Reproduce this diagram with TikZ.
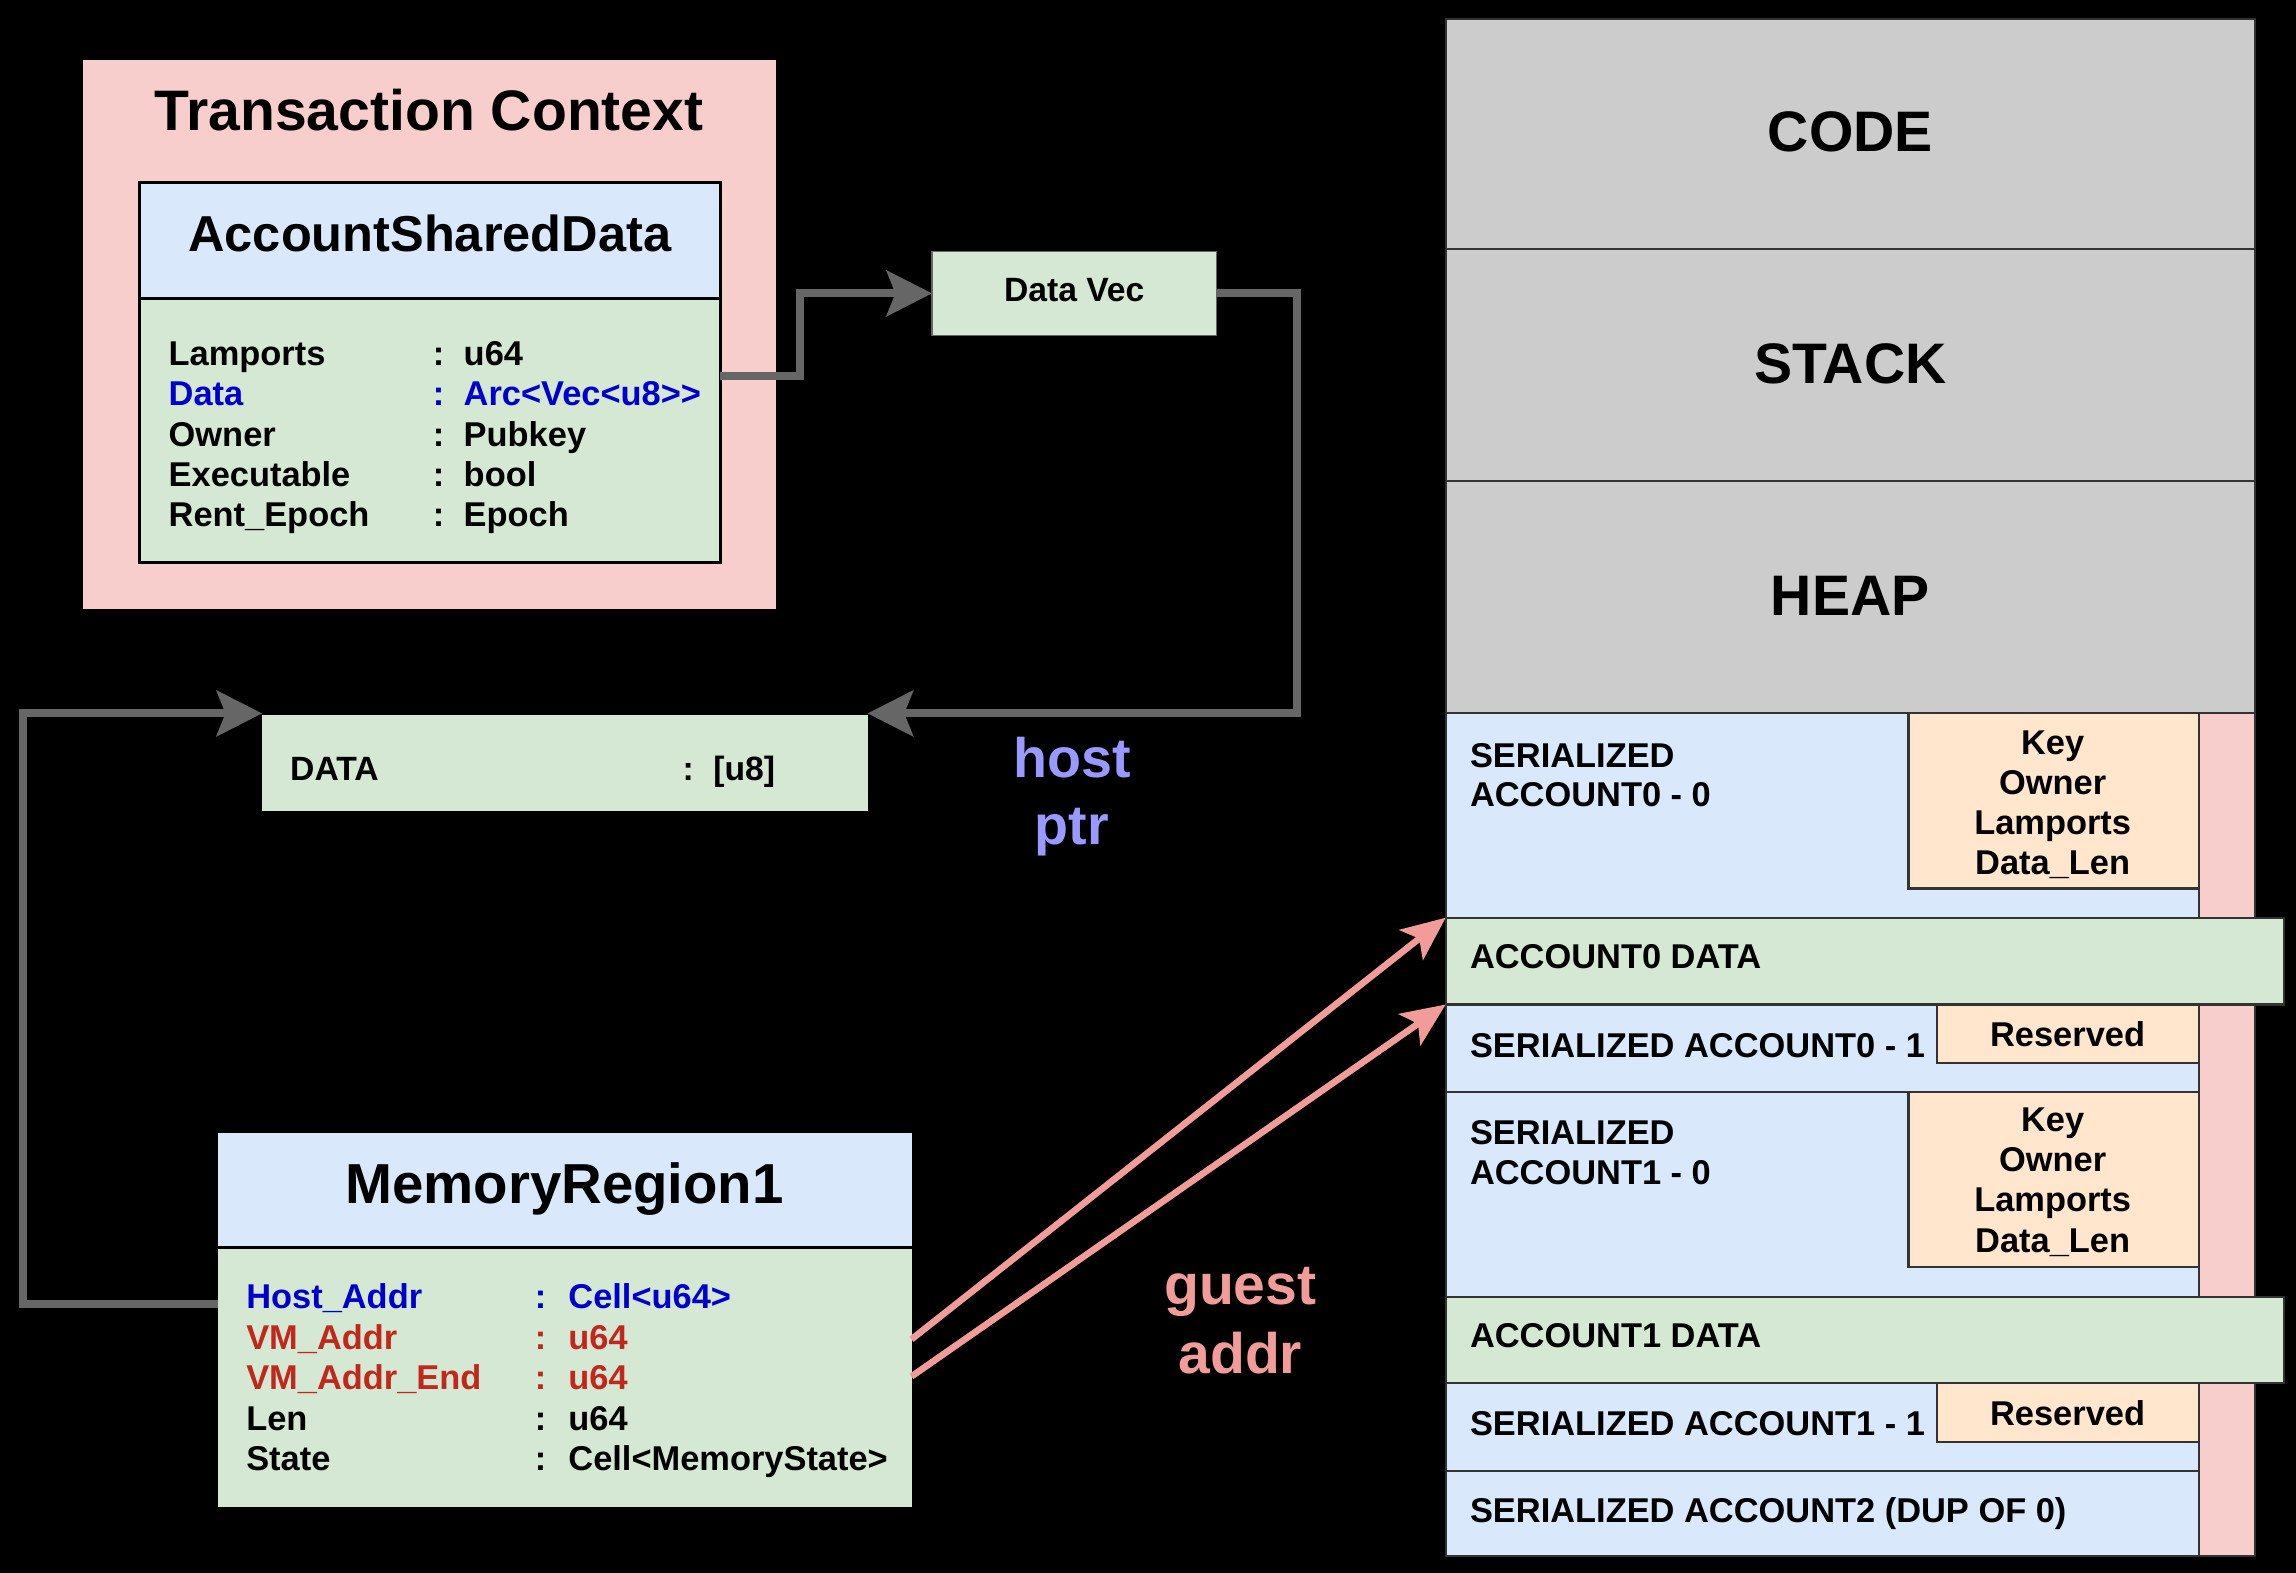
\documentclass[tikz,border=0pt]{standalone}
\usepackage{fontspec}
\setmainfont{Liberation Sans}
\usetikzlibrary{arrows.meta,calc}
\definecolor{pinkF}{HTML}{F8CECC}
\definecolor{blueF}{HTML}{DAE8FC}
\definecolor{greenF}{HTML}{D5E8D4}
\definecolor{orangeF}{HTML}{FFE6CC}
\definecolor{grayF}{HTML}{CCCCCC}
\definecolor{memedge}{HTML}{333333}
\definecolor{arrgray}{HTML}{666666}
\definecolor{arrpink}{HTML}{F19C99}
\definecolor{hostc}{HTML}{9999FF}
\definecolor{txtblue}{HTML}{0000CC}
\definecolor{txtred}{HTML}{C0281C}
\newcommand\fsz[1]{\fontsize{#1}{#1}\selectfont\bfseries}
\begin{document}
\begin{tikzpicture}[x=1pt,y=-1pt,
  box/.style={inner sep=0pt, outer sep=0pt, anchor=north west},
  memb/.style={box, draw=memedge, line width=1.5pt},
  lbl/.style={inner sep=0pt, anchor=base west},
  ctr/.style={inner sep=0pt, anchor=base},
  garrow/.style={draw=arrgray, line width=5.5pt, -{Stealth[length=31pt,width=31pt,inset=6pt]}},
  parrow/.style={draw=arrpink, line width=4.5pt, -{Stealth[length=30pt,width=26pt,inset=7pt]}}]
\fill[black] (0,0) rectangle (1568,1074);
\useasboundingbox (0,0) rectangle (1568,1074);

% Transaction context
\node[box, fill=pinkF, minimum width=473.4pt, minimum height=374.7pt] (tc) at (56.6,41) {};
\node[ctr, font=\fsz{39}] (tctitle) at (293,89) {Transaction Context};
\node[box, fill=greenF, draw=black, line width=2pt, minimum width=397pt, minimum height=259.3pt] (asd) at (95,124.7) {};
\node[box, fill=blueF, draw=black, line width=2pt, minimum width=397pt, minimum height=79.3pt] (asdh) at (95,124.7) {};
\node[ctr, font=\fsz{34.5}] (asdtitle) at (293.5,171.5) {AccountSharedData};
\foreach \n/\v/\c [count=\i from 0] in {Lamports/u64/black, Data/Arc<Vec<u8>{}>/txtblue, Owner/Pubkey/black, Executable/bool/black, Rent\_Epoch/Epoch/black} {
  \node[lbl, text=\c, font=\fsz{23.5}] (asdn\i) at (115,{249.4+27.6*\i}) {\n};
  \node[lbl, text=\c, font=\fsz{23.5}] (asdc\i) at (295.5,{249.4+27.6*\i}) {:};
  \node[lbl, text=\c, font=\fsz{23.5}] (asdv\i) at (316.5,{249.4+27.6*\i}) {\v};
}

% Data Vec
\node[box, fill=greenF, draw=arrgray, line width=0.8pt, minimum width=194.2pt, minimum height=57.3pt] (datavec) at (636.5,171.7) {};
\node[ctr, font=\fsz{23}] (dvtext) at (733.6,206) {Data Vec};

% DATA box
\node[box, fill=greenF, minimum width=413.5pt, minimum height=65.2pt] (databox) at (179,488.4) {};
\node[lbl, font=\fsz{23}] (dataname) at (198,533) {DATA};
\node[lbl, font=\fsz{23}] (datacolon) at (466,533) {:};
\node[lbl, font=\fsz{23}] (dataval) at (487,533) {[u8]};

% host ptr
\node[ctr, text=hostc, font=\fsz{38}] (host1) at (732,531) {host};
\node[ctr, text=hostc, font=\fsz{38}] (host2) at (732,577) {ptr};

% guest addr
\node[ctr, text=arrpink, font=\fsz{39}] (guest1) at (847,891) {guest};
\node[ctr, text=arrpink, font=\fsz{39}] (guest2) at (847,938) {addr};

% Memory region
\node[box, fill=greenF, minimum width=473.5pt, minimum height=255pt] (mr) at (149,774) {};
\node[box, fill=blueF, minimum width=473.5pt, minimum height=78pt] (mrh) at (149,774) {};
\draw[black, line width=2pt] (mrh.south west) -- (mrh.south east);
\node[ctr, font=\fsz{38.5}] (mrtitle) at (385.5,821.7) {MemoryRegion1};
\foreach \n/\v/\c [count=\i from 0] in {Host\_Addr/Cell<u64>/txtblue, VM\_Addr/u64/txtred, VM\_Addr\_End/u64/txtred, Len/u64/black, State/Cell<MemoryState>/black} {
  \node[lbl, text=\c, font=\fsz{23.5}] (mrn\i) at (168,{893.8+27.6*\i}) {\n};
  \node[lbl, text=\c, font=\fsz{23.5}] (mrc\i) at (365,{893.8+27.6*\i}) {:};
  \node[lbl, text=\c, font=\fsz{23.5}] (mrv\i) at (388,{893.8+27.6*\i}) {\v};
}

% Memory map column
\node[memb, fill=grayF, minimum width=552.7pt, minimum height=156.8pt] (code) at (987.3,13.2) {};
\node[memb, fill=grayF, minimum width=552.7pt, minimum height=158.6pt] (stack) at (987.3,170) {};
\node[memb, fill=grayF, minimum width=552.7pt, minimum height=158.4pt] (heap) at (987.3,328.6) {};
\node[ctr, font=\fsz{39}] (codet) at (1263.6,103.5) {CODE};
\node[ctr, font=\fsz{39}] (stackt) at (1263.6,261.8) {STACK};
\node[ctr, font=\fsz{39}] (heapt) at (1263.6,420) {HEAP};

\node[memb, fill=pinkF, minimum width=38.3pt, minimum height=575.7pt] (strip) at (1501.7,487) {};

\node[memb, fill=blueF, minimum width=514.4pt, minimum height=139.7pt] (ser00) at (987.3,487) {};
\node[memb, fill=orangeF, minimum width=198.3pt, minimum height=119.8pt] (key0) at (1303.4,487) {};
\node[memb, fill=greenF, minimum width=572.7pt, minimum height=59.3pt] (acc0data) at (987.3,626.7) {};
\node[memb, fill=blueF, minimum width=514.4pt, minimum height=60pt] (ser01) at (987.3,686) {};
\node[memb, fill=orangeF, minimum width=178.7pt, minimum height=40pt] (res0) at (1323,686) {};
\node[memb, fill=blueF, minimum width=514.4pt, minimum height=139.8pt] (ser10) at (987.3,746) {};
\node[memb, fill=orangeF, minimum width=198.3pt, minimum height=119pt] (key1) at (1303.4,746) {};
\node[memb, fill=greenF, minimum width=572.7pt, minimum height=58.7pt] (acc1data) at (987.3,885.8) {};
\node[memb, fill=blueF, minimum width=514.4pt, minimum height=60.1pt] (ser11) at (987.3,944.5) {};
\node[memb, fill=orangeF, minimum width=178.7pt, minimum height=40.1pt] (res1) at (1323,944.5) {};
\node[memb, fill=blueF, minimum width=514.4pt, minimum height=58.1pt] (ser2) at (987.3,1004.6) {};

\node[lbl, font=\fsz{23.5}] (t00a) at (1003.7,524) {SERIALIZED};
\node[lbl, font=\fsz{23.5}] (t00b) at (1003.7,551) {ACCOUNT0 - 0};
\node[ctr, font=\fsz{23.5}] (k0a) at (1401.8,515) {Key};
\node[ctr, font=\fsz{23.5}] (k0b) at (1401.8,542.5) {Owner};
\node[ctr, font=\fsz{23.5}] (k0c) at (1401.8,570) {Lamports};
\node[ctr, font=\fsz{23.5}] (k0d) at (1401.8,597.5) {Data\_Len};
\node[lbl, font=\fsz{23.5}] (ta0) at (1003.7,661.5) {ACCOUNT0 DATA};
\node[lbl, font=\fsz{23.5}] (t01) at (1003.7,722) {SERIALIZED ACCOUNT0 - 1};
\node[ctr, font=\fsz{23.5}] (r0t) at (1412,715) {Reserved};
\node[lbl, font=\fsz{23.5}] (t10a) at (1003.7,781.5) {SERIALIZED};
\node[lbl, font=\fsz{23.5}] (t10b) at (1003.7,808.6) {ACCOUNT1 - 0};
\node[ctr, font=\fsz{23.5}] (k1a) at (1401.8,772.6) {Key};
\node[ctr, font=\fsz{23.5}] (k1b) at (1401.8,800.1) {Owner};
\node[ctr, font=\fsz{23.5}] (k1c) at (1401.8,827.6) {Lamports};
\node[ctr, font=\fsz{23.5}] (k1d) at (1401.8,855.1) {Data\_Len};
\node[lbl, font=\fsz{23.5}] (ta1) at (1003.7,920) {ACCOUNT1 DATA};
\node[lbl, font=\fsz{23.5}] (t11) at (1003.7,980) {SERIALIZED ACCOUNT1 - 1};
\node[ctr, font=\fsz{23.5}] (r1t) at (1412,973.8) {Reserved};
\node[lbl, font=\fsz{23.5}] (t2) at (1003.7,1040) {SERIALIZED ACCOUNT2 (DUP OF 0)};

% Connectors
\draw[garrow] ($(asd.east)+(0,2.6)$) -- ++(54.3,0) |- (datavec.west);
\draw[garrow] (datavec.east) -- ++(55.3,0) |- ($(databox.north east)+(0,-1.2)$);
\draw[garrow] ($(mr.west)+(0,-11)$) -- ++(-133.2,0) |- ($(databox.north west)+(0,-1.2)$);
\draw[parrow] ($(mr.east)+(0,13.1)$) -- (acc0data.north west);
\draw[parrow] ($(mr.east)+(0,38.5)$) -- (acc0data.south west);
\end{tikzpicture}
\end{document}
